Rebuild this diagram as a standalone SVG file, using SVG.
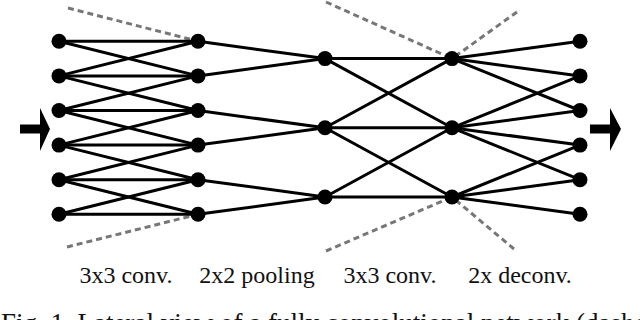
<svg xmlns="http://www.w3.org/2000/svg" width="640" height="320" viewBox="0 0 640 320">
<style>
.e{stroke:#000;stroke-width:3;fill:none;stroke-linecap:round}
.d{stroke:#777;stroke-width:3;stroke-dasharray:6 4;fill:none}
.n{fill:#000}
.lbl{font-family:"Liberation Serif","Times New Roman",serif;font-size:24px;fill:#111;text-anchor:middle}
.cap{font-family:"Liberation Serif","Times New Roman",serif;font-size:27px;fill:#111}
</style>
<rect width="640" height="320" fill="#fff"/>
<g id="receptive-fields">
<line class="d" x1="68" y1="8" x2="198" y2="41.3"/>
<line class="d" x1="67" y1="247" x2="198" y2="214.3"/>
<line class="d" x1="326" y1="2" x2="452" y2="58.6"/>
<line class="d" x1="517" y1="12" x2="452" y2="58.6"/>
<line class="d" x1="326" y1="251" x2="452" y2="197"/>
<line class="d" x1="514" y1="249" x2="452" y2="197"/>
</g>
<g id="connectors">
<!-- L1 -> L2 (3x3 conv) -->
<line class="e" x1="59" y1="41.3" x2="198" y2="41.3"/>
<line class="e" x1="59" y1="41.3" x2="198" y2="75.9"/>
<line class="e" x1="59" y1="75.9" x2="198" y2="41.3"/>
<line class="e" x1="59" y1="75.9" x2="198" y2="75.9"/>
<line class="e" x1="59" y1="75.9" x2="198" y2="110.5"/>
<line class="e" x1="59" y1="110.5" x2="198" y2="75.9"/>
<line class="e" x1="59" y1="110.5" x2="198" y2="110.5"/>
<line class="e" x1="59" y1="110.5" x2="198" y2="145.1"/>
<line class="e" x1="59" y1="145.1" x2="198" y2="110.5"/>
<line class="e" x1="59" y1="145.1" x2="198" y2="145.1"/>
<line class="e" x1="59" y1="145.1" x2="198" y2="179.7"/>
<line class="e" x1="59" y1="179.7" x2="198" y2="145.1"/>
<line class="e" x1="59" y1="179.7" x2="198" y2="179.7"/>
<line class="e" x1="59" y1="179.7" x2="198" y2="214.3"/>
<line class="e" x1="59" y1="214.3" x2="198" y2="179.7"/>
<line class="e" x1="59" y1="214.3" x2="198" y2="214.3"/>
<!-- L2 -> L3 (2x2 pooling) -->
<line class="e" x1="198" y1="41.3" x2="325" y2="58.6"/>
<line class="e" x1="198" y1="75.9" x2="325" y2="58.6"/>
<line class="e" x1="198" y1="110.5" x2="325" y2="127.8"/>
<line class="e" x1="198" y1="145.1" x2="325" y2="127.8"/>
<line class="e" x1="198" y1="179.7" x2="325" y2="197"/>
<line class="e" x1="198" y1="214.3" x2="325" y2="197"/>
<!-- L3 -> L4 (3x3 conv) -->
<line class="e" x1="325" y1="58.6" x2="452" y2="58.6"/>
<line class="e" x1="325" y1="58.6" x2="452" y2="127.8"/>
<line class="e" x1="325" y1="127.8" x2="452" y2="58.6"/>
<line class="e" x1="325" y1="127.8" x2="452" y2="127.8"/>
<line class="e" x1="325" y1="127.8" x2="452" y2="197"/>
<line class="e" x1="325" y1="197" x2="452" y2="127.8"/>
<line class="e" x1="325" y1="197" x2="452" y2="197"/>
<!-- L4 -> L5 (2x deconv) -->
<line class="e" x1="452" y1="58.6" x2="580" y2="41.3"/>
<line class="e" x1="452" y1="58.6" x2="580" y2="75.9"/>
<line class="e" x1="452" y1="58.6" x2="580" y2="110.5"/>
<line class="e" x1="452" y1="127.8" x2="580" y2="75.9"/>
<line class="e" x1="452" y1="127.8" x2="580" y2="110.5"/>
<line class="e" x1="452" y1="127.8" x2="580" y2="145.1"/>
<line class="e" x1="452" y1="127.8" x2="580" y2="179.7"/>
<line class="e" x1="452" y1="197" x2="580" y2="145.1"/>
<line class="e" x1="452" y1="197" x2="580" y2="179.7"/>
<line class="e" x1="452" y1="197" x2="580" y2="214.3"/>
</g>
<g id="input-arrow"><polygon class="n" points="20,124.5 40,124.5 40,108 50,129 40,151 40,133.5 20,133.5"/></g>
<g id="output-arrow"><polygon class="n" points="590,124.5 610,124.5 610,108 621,129 610,151 610,133.5 590,133.5"/></g>
<g id="in-0"><circle class="n" cx="59" cy="41.3" r="7.5"/></g>
<g id="in-1"><circle class="n" cx="59" cy="75.9" r="7.5"/></g>
<g id="in-2"><circle class="n" cx="59" cy="110.5" r="7.5"/></g>
<g id="in-3"><circle class="n" cx="59" cy="145.1" r="7.5"/></g>
<g id="in-4"><circle class="n" cx="59" cy="179.7" r="7.5"/></g>
<g id="in-5"><circle class="n" cx="59" cy="214.3" r="7.5"/></g>
<g id="conv1-0"><circle class="n" cx="198" cy="41.3" r="7.5"/></g>
<g id="conv1-1"><circle class="n" cx="198" cy="75.9" r="7.5"/></g>
<g id="conv1-2"><circle class="n" cx="198" cy="110.5" r="7.5"/></g>
<g id="conv1-3"><circle class="n" cx="198" cy="145.1" r="7.5"/></g>
<g id="conv1-4"><circle class="n" cx="198" cy="179.7" r="7.5"/></g>
<g id="conv1-5"><circle class="n" cx="198" cy="214.3" r="7.5"/></g>
<g id="pool-0"><circle class="n" cx="325" cy="58.6" r="7.5"/></g>
<g id="pool-1"><circle class="n" cx="325" cy="127.8" r="7.5"/></g>
<g id="pool-2"><circle class="n" cx="325" cy="197" r="7.5"/></g>
<g id="conv2-0"><circle class="n" cx="452" cy="58.6" r="7.5"/></g>
<g id="conv2-1"><circle class="n" cx="452" cy="127.8" r="7.5"/></g>
<g id="conv2-2"><circle class="n" cx="452" cy="197" r="7.5"/></g>
<g id="out-0"><circle class="n" cx="580" cy="41.3" r="7.5"/></g>
<g id="out-1"><circle class="n" cx="580" cy="75.9" r="7.5"/></g>
<g id="out-2"><circle class="n" cx="580" cy="110.5" r="7.5"/></g>
<g id="out-3"><circle class="n" cx="580" cy="145.1" r="7.5"/></g>
<g id="out-4"><circle class="n" cx="580" cy="179.7" r="7.5"/></g>
<g id="out-5"><circle class="n" cx="580" cy="214.3" r="7.5"/></g>
<g id="labels">
<text class="lbl" x="126" y="283">3x3 conv.</text>
<text class="lbl" x="257" y="283">2x2 pooling</text>
<text class="lbl" x="390" y="283">3x3 conv.</text>
<text class="lbl" x="520" y="283">2x deconv.</text>
<text class="cap" x="1" y="332">Fig. 1. Lateral view of a fully convolutional network (dashed</text>
</g>
</svg>
